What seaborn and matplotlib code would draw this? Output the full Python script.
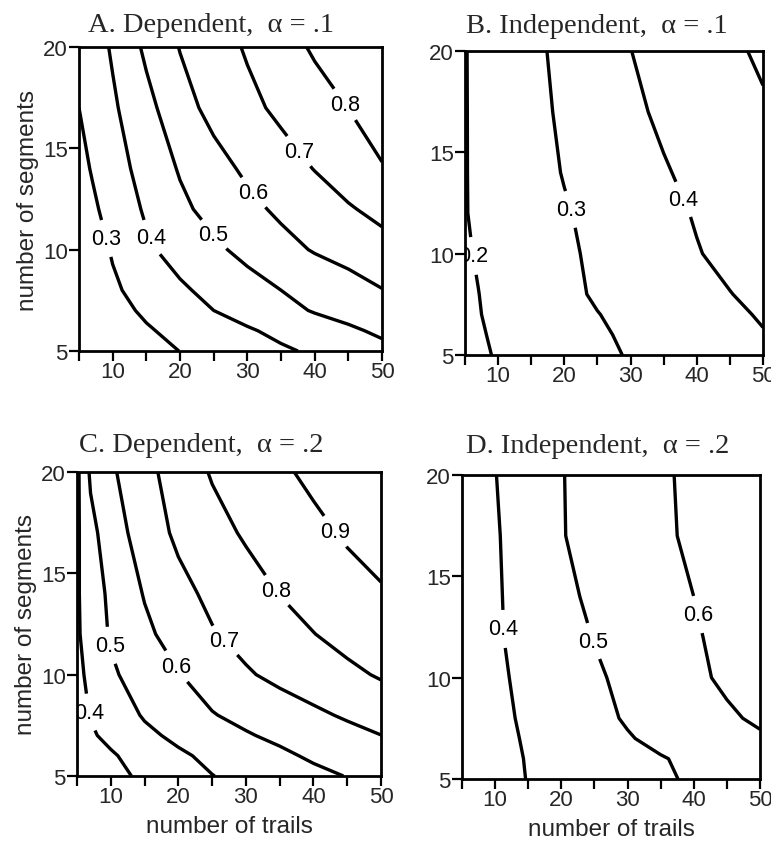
import numpy as np
import seaborn as sns
import matplotlib.pyplot as plt

# grid: power at (number of trails, number of segments)
trails = [5, 7, 10, 15, 20, 25, 30, 35, 40, 45, 50]
segments = [5, 6, 7, 8, 10, 12, 14, 17, 20]

# A. dependent, alpha = .1  (rows follow `segments`)
power_dep_a1 = [
    [0.205, 0.222, 0.243, 0.272, 0.301, 0.329, 0.358, 0.387, 0.413, 0.445, 0.475],
    [0.210, 0.230, 0.257, 0.291, 0.324, 0.357, 0.390, 0.422, 0.453, 0.485, 0.516],
    [0.215, 0.240, 0.271, 0.314, 0.357, 0.400, 0.436, 0.471, 0.507, 0.532, 0.556],
    [0.220, 0.250, 0.286, 0.336, 0.386, 0.426, 0.463, 0.500, 0.532, 0.565, 0.597],
    [0.235, 0.262, 0.308, 0.385, 0.436, 0.482, 0.526, 0.570, 0.607, 0.632, 0.665],
    [0.252, 0.285, 0.334, 0.413, 0.480, 0.531, 0.576, 0.617, 0.654, 0.691, 0.727],
    [0.273, 0.307, 0.358, 0.437, 0.508, 0.566, 0.617, 0.660, 0.703, 0.748, 0.795],
    [0.300, 0.334, 0.386, 0.471, 0.563, 0.629, 0.676, 0.720, 0.761, 0.801, 0.840],
    [0.320, 0.356, 0.411, 0.519, 0.604, 0.657, 0.710, 0.762, 0.812, 0.857, 0.890],
]

# B. independent, alpha = .1
power_ind_a1 = [
    [0.180, 0.190, 0.205, 0.231, 0.256, 0.282, 0.306, 0.326, 0.346, 0.366, 0.386],
    [0.182, 0.193, 0.210, 0.236, 0.263, 0.289, 0.313, 0.333, 0.354, 0.375, 0.396],
    [0.185, 0.197, 0.215, 0.242, 0.270, 0.298, 0.320, 0.342, 0.364, 0.386, 0.407],
    [0.188, 0.199, 0.219, 0.250, 0.281, 0.309, 0.331, 0.354, 0.376, 0.398, 0.420],
    [0.193, 0.205, 0.224, 0.255, 0.286, 0.315, 0.342, 0.369, 0.396, 0.419, 0.442],
    [0.197, 0.211, 0.230, 0.262, 0.293, 0.322, 0.350, 0.379, 0.406, 0.432, 0.458],
    [0.197, 0.213, 0.234, 0.269, 0.304, 0.333, 0.363, 0.393, 0.421, 0.448, 0.474],
    [0.197, 0.214, 0.237, 0.276, 0.313, 0.348, 0.383, 0.415, 0.444, 0.470, 0.490],
    [0.197, 0.216, 0.240, 0.281, 0.321, 0.360, 0.399, 0.428, 0.456, 0.485, 0.513],
]

# C. dependent, alpha = .2
power_dep_a2 = [
    [0.335, 0.350, 0.375, 0.416, 0.457, 0.498, 0.525, 0.551, 0.577, 0.603, 0.630],
    [0.340, 0.360, 0.390, 0.438, 0.485, 0.521, 0.551, 0.582, 0.614, 0.640, 0.665],
    [0.345, 0.389, 0.422, 0.479, 0.521, 0.556, 0.592, 0.620, 0.647, 0.673, 0.699],
    [0.360, 0.404, 0.445, 0.509, 0.552, 0.595, 0.625, 0.654, 0.683, 0.711, 0.740],
    [0.375, 0.424, 0.486, 0.544, 0.596, 0.643, 0.690, 0.723, 0.751, 0.780, 0.809],
    [0.388, 0.441, 0.510, 0.581, 0.639, 0.693, 0.730, 0.764, 0.798, 0.830, 0.860],
    [0.390, 0.448, 0.521, 0.606, 0.671, 0.722, 0.762, 0.802, 0.835, 0.866, 0.893],
    [0.385, 0.472, 0.552, 0.647, 0.719, 0.768, 0.811, 0.845, 0.878, 0.911, 0.930],
    [0.380, 0.515, 0.585, 0.671, 0.745, 0.808, 0.847, 0.885, 0.920, 0.940, 0.955],
]

# D. independent, alpha = .2
power_ind_a2 = [
    [0.310, 0.330, 0.365, 0.403, 0.424, 0.446, 0.467, 0.489, 0.510, 0.530, 0.550],
    [0.315, 0.335, 0.370, 0.405, 0.428, 0.450, 0.472, 0.495, 0.516, 0.536, 0.556],
    [0.320, 0.340, 0.375, 0.409, 0.437, 0.466, 0.494, 0.520, 0.545, 0.568, 0.590],
    [0.325, 0.345, 0.380, 0.413, 0.445, 0.477, 0.508, 0.535, 0.562, 0.589, 0.612],
    [0.330, 0.350, 0.385, 0.420, 0.454, 0.488, 0.520, 0.552, 0.585, 0.613, 0.632],
    [0.335, 0.355, 0.390, 0.428, 0.466, 0.503, 0.533, 0.563, 0.593, 0.618, 0.640],
    [0.340, 0.360, 0.390, 0.435, 0.481, 0.515, 0.544, 0.572, 0.600, 0.625, 0.648],
    [0.345, 0.365, 0.392, 0.443, 0.496, 0.526, 0.556, 0.586, 0.614, 0.638, 0.662],
    [0.350, 0.370, 0.398, 0.446, 0.497, 0.527, 0.558, 0.589, 0.616, 0.640, 0.665],
]

levels = [0.1, 0.2, 0.3, 0.4, 0.5, 0.6, 0.7, 0.8, 0.9]
titles = ['A. Dependent,  \u03b1 = .1', 'B. Independent,  \u03b1 = .1',
          'C. Dependent,  \u03b1 = .2', 'D. Independent,  \u03b1 = .2']
grids = [power_dep_a1, power_ind_a1, power_dep_a2, power_ind_a2]

# where the inline labels sit (trails, segments)
label_spots = [
    [(9.0, 10.55), (15.4, 10.55), (24.8, 10.7), (31.0, 12.85), (37.4, 14.8), (44.6, 17.2)],
    [(6.5, 9.9), (21.1, 12.2), (37.4, 12.6)],
    [(6.1, 8.1), (9.3, 11.4), (19.2, 10.3), (26.6, 11.6), (34.3, 14.1), (42.9, 17.0)],
    [(11.0, 12.4), (24.8, 11.8), (40.4, 13.1)],
]

# axes boxes in figure fractions, title offsets
boxes = [[0.1025, 0.5834, 0.393, 0.3598], [0.6031, 0.5787, 0.3865, 0.3598],
         [0.0999, 0.0805, 0.3943, 0.3598], [0.5992, 0.0769, 0.3865, 0.3598]]
title_xy = [(0.436, 1.075), (0.443, 1.085), (0.41, 1.09), (0.456, 1.098)]

sns.set_style('ticks')
plt.rcParams['font.family'] = ['Liberation Sans', 'DejaVu Sans']

fig = plt.figure(figsize=(7.71, 8.45), dpi=100)

for i in range(4):
    ax = fig.add_axes(boxes[i])
    z = np.array(grids[i])
    cs = ax.contour(trails, segments, z, levels=levels, colors='k', linewidths=2.4)
    labels = ax.clabel(cs, fmt='%.1f', fontsize=15.5, inline=True, inline_spacing=4,
                       manual=label_spots[i])
    for t in labels:
        t.set_rotation(0)

    ax.set_xlim(5, 50)
    ax.set_ylim(5, 20)
    ax.set_xticks(range(5, 51, 5))
    ax.set_xticklabels(['' if t % 10 else str(t) for t in range(5, 51, 5)])
    ax.set_yticks([5, 10, 15, 20])
    ax.tick_params(axis='both', direction='out', length=7, width=1.6,
                   labelsize=16, color='k')
    ax.tick_params(axis='x', pad=0)
    ax.tick_params(axis='y', pad=1)
    for s in ax.spines.values():
        s.set_visible(True)
        s.set_linewidth(2)
        s.set_color('k')

    if i % 2 == 0:
        ax.set_ylabel('number of segments', fontsize=17.5, labelpad=3)
    if i >= 2:
        ax.set_xlabel('number of trails', fontsize=17.5, labelpad=6)

    ax.text(title_xy[i][0], title_xy[i][1], titles[i], transform=ax.transAxes,
            ha='center', va='center', fontsize=20.5,
            family=['Liberation Serif', 'DejaVu Serif'])

plt.savefig('out.png', dpi=100)
plt.close()
